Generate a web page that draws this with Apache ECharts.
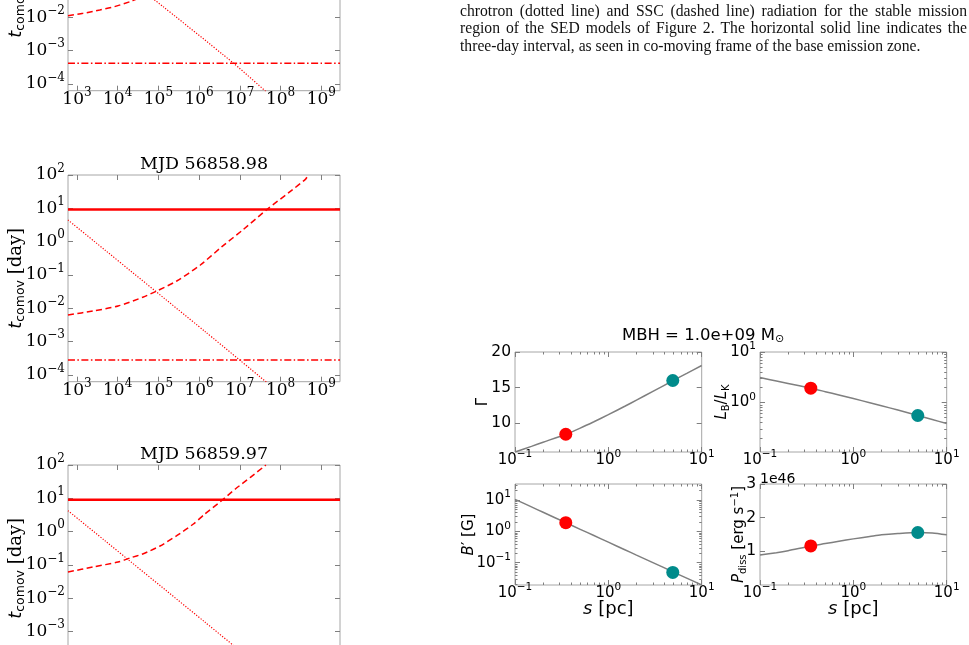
<!DOCTYPE html>
<html><head><meta charset="utf-8">
<script src="https://cdn.jsdelivr.net/npm/echarts@6.0.0/dist/echarts.min.js"></script>
<style>html,body{margin:0;padding:0;background:#fff;}#chart{width:969px;height:645px;}</style>
</head><body><div id="chart"></div>
<script>
// ================= DATA =================
// Left column: comoving time scales vs frequency (log10 values)
const nuTickValues = [1e3, 1e4, 1e5, 1e6, 1e7, 1e8, 1e9];
const tTickValues = [1e-4, 1e-3, 1e-2, 1e-1, 1, 10, 100];
const panelTitles = ['MJD 56858.98', 'MJD 56859.97'];

// Panel A (upper panel, title cut off by the page)
const A_sscLogNu = [2.78, 3.15, 3.56, 3.92, 4.30, 4.45];
const A_sscLogT  = [-1.95, -1.88, -1.78, -1.68, -1.53, -1.46];
const A_synLogNu = [4.85, 6.85, 7.70];
const A_synLogT  = [-1.42, -3.38, -4.29];
const A_escT = 4.2e-4;

// Panel B  (MJD 56858.98)
const B_sscLogNu = [2.78, 3.39, 4.01, 4.63, 4.96, 5.45, 6.03, 6.56, 7.09, 7.67, 8.20, 8.61, 8.68];
const B_sscLogT  = [-2.20, -2.08, -1.93, -1.66, -1.48, -1.18, -0.70, -0.15, 0.37, 0.97, 1.47, 1.87, 2.0];
const B_synLogNu = [2.78, 6.15, 7.70];
const B_synLogT  = [0.65, -2.70, -4.26];
const B_varT = 9.3;
const B_escT = 2.8e-4;

// Panel C  (MJD 56859.97)
const C_sscLogNu = [2.78, 3.39, 4.01, 4.30, 4.63, 5.04, 5.45, 5.86, 6.12, 6.52, 6.89, 7.26, 7.64];
const C_sscLogT  = [-1.21, -1.06, -0.91, -0.79, -0.66, -0.43, -0.12, 0.23, 0.51, 0.90, 1.28, 1.63, 2.0];
const C_synLogNu = [2.78, 6.15, 6.95];
const C_synLogT  = [0.63, -2.72, -3.52];
const C_varT = 9.1;

// Right block: MBH = 1e9 Msun, parameters vs distance s [pc]
const sValues      = [0.1, 0.15, 0.2, 0.35, 0.5, 0.7, 1, 1.5, 2, 3, 4.9, 7, 10];
const gammaValues  = [5.96, 6.75, 7.33, 8.45, 9.32, 10.21, 11.20, 12.38, 13.24, 14.47, 15.96, 17.03, 18.1];
const lbLkValues   = [3.12, 2.67, 2.39, 1.92, 1.64, 1.41, 1.20, 0.99, 0.863, 0.708, 0.553, 0.461, 0.383];
const bPrimeValues = [10.5, 6.03, 4.06, 1.89, 1.16, 0.736, 0.452, 0.260, 0.175, 0.101, 0.0516, 0.0317, 0.0195];
const pDissValues  = [0.89e46, 0.96e46, 1.02e46, 1.16e46, 1.23e46, 1.30e46, 1.37e46, 1.44e46, 1.49e46, 1.53e46, 1.56e46, 1.545e46, 1.49e46];
const markerS      = [0.35, 4.9];
const markerGamma  = [8.45, 16.0];
const markerLbLk   = [1.92, 0.553];
const markerB      = [1.89, 0.049];
const markerP      = [1.16e46, 1.56e46];
const sTickValues  = [0.1, 1, 10];
const gammaTicks   = [10, 15, 20];
const pTicks       = [1e46, 2e46, 3e46];

const captionLines = [
  'chrotron (dotted line) and SSC (dashed line) radiation for the stable mission',
  'region of the SED models of Figure 2.  The horizontal solid line indicates the',
  'three-day interval, as seen in co-moving frame of the base emission zone.'
];
const bigTitle = 'MBH = 1.0e+09 M';

// ================= STYLE / LAYOUT =================
const FRAME = '#a6a6a6', TICK = '#7f7f7f';
const SERIF = '"DejaVu Serif", serif', SANS = '"DejaVu Sans", sans-serif';
const RED = '#ff0000', TEAL = '#008b8b', GRAY = '#7f7f7f';
const NU_MIN = Math.pow(10, 2.78), NU_MAX = Math.pow(10, 9.46);
const T_MIN = Math.pow(10, -4.2), T_MAX = 100;

function minorsLog(lo, hi) { const r = []; for (let d = Math.floor(Math.log10(lo)); d <= Math.ceil(Math.log10(hi)); d++) for (let k = 2; k <= 9; k++) { const v = k * Math.pow(10, d); if (v > lo && v < hi) r.push(v); } return r; }
function logFmt(v) { const e = Math.round(Math.log10(v)); return '{b|10}{s|' + String(e).replace('-', '\u2212') + '}'; }
const LRICH = { b: { fontFamily: SERIF, fontSize: 17, color: '#000' }, s: { fontFamily: SERIF, fontSize: 12, color: '#000', padding: [0, 0, 13, 0] } };
const RRICH = { b: { fontFamily: SANS, fontSize: 15, color: '#000' }, s: { fontFamily: SANS, fontSize: 10.5, color: '#000', padding: [0, 0, 11, 0] } };

const grids = [], xAxes = [], yAxes = [], series = [];
function axis(o) {
  return {
    type: o.type, gridIndex: o.grid, position: o.pos, min: o.min, max: o.max, logBase: 10,
    splitLine: { show: false }, splitArea: { show: false }, minorTick: { show: false },
    axisLine: { show: false, onZero: false },
    axisTick: { show: true, inside: true, length: o.tickLen || 5, customValues: o.ticks, lineStyle: { color: TICK, width: 1 } },
    axisLabel: { show: !!o.labels, customValues: o.ticks, formatter: o.fmt, rich: o.rich, margin: o.margin, color: '#000', fontFamily: o.font, fontSize: o.fs, hideOverlap: false },
    name: o.labels ? (o.name || '') : '', nameLocation: 'middle', nameGap: o.nameGap, nameTextStyle: o.nameStyle, nameMoveOverlap: false,
    silent: true
  };
}
function addPanel(box, xc, yc) {
  const gi = grids.length;
  grids.push({ left: box[0], top: box[1], width: box[2], height: box[3], show: true, borderColor: FRAME, borderWidth: 1, backgroundColor: 'transparent', containLabel: false, outerBoundsMode: 'none' });
  const xi = xAxes.length, yi = yAxes.length;
  xAxes.push(axis(Object.assign({}, xc, { grid: gi, pos: 'bottom', labels: xc.showLabels !== false })));
  yAxes.push(axis(Object.assign({}, yc, { grid: gi, pos: 'left', labels: true })));
  xAxes.push(axis(Object.assign({}, xc, { grid: gi, pos: 'top', labels: false })));
  yAxes.push(axis(Object.assign({}, yc, { grid: gi, pos: 'right', labels: false })));
  if (xc.minor) ['bottom', 'top'].forEach(p => xAxes.push(axis(Object.assign({}, xc, { grid: gi, pos: p, labels: false, ticks: xc.minor, tickLen: 2.5 }))));
  if (yc.minor) ['left', 'right'].forEach(p => yAxes.push(axis(Object.assign({}, yc, { grid: gi, pos: p, labels: false, ticks: yc.minor, tickLen: 2.5 }))));
  return { xi, yi };
}
const pairs = (lx, ly) => lx.map((v, i) => [Math.pow(10, v), Math.pow(10, ly[i])]);
function line(ax, data, color, width, type, z) {
  series.push({ type: 'line', xAxisIndex: ax.xi, yAxisIndex: ax.yi, data, showSymbol: false, symbol: 'none', smooth: 0.25, clip: true, silent: true, animation: false, z: z || 2,
    lineStyle: { color, width, type } });
}
function marks(ax, ys) {
  series.push({ type: 'scatter', xAxisIndex: ax.xi, yAxisIndex: ax.yi, symbolSize: 13, silent: true, animation: false, z: 5,
    data: markerS.map((s, i) => ({ value: [s, ys[i]], itemStyle: { color: i === 0 ? RED : TEAL, opacity: 1 } })) });
}

// ---------- left column ----------
const tName = '{i|t}{sub|comov}{n| [day]}';
const tNameStyle = { rich: { i: { fontFamily: SANS, fontStyle: 'italic', fontSize: 18, color: '#000' }, sub: { fontFamily: SANS, fontSize: 12.5, color: '#000', padding: [9, 0, 0, 0] }, n: { fontFamily: SERIF, fontSize: 18, color: '#000' } } };
const nuAxis = { type: 'log', min: NU_MIN, max: NU_MAX, ticks: nuTickValues, fmt: logFmt, rich: LRICH, margin: -4 };
const tAxis = { type: 'log', min: T_MIN, max: T_MAX, ticks: tTickValues, fmt: logFmt, rich: LRICH, margin: 3, name: tName, nameGap: 41, nameStyle: tNameStyle };
const LEFT_X = 68, LEFT_W = 272, LEFT_H = 206.7;
const DOT = [1.2, 1.6], DASH = [6, 3.5], DASHDOT = [7, 2.5, 1.5, 2.5];

const pA = addPanel([LEFT_X, -116, LEFT_W, LEFT_H], nuAxis, tAxis);
line(pA, pairs(A_sscLogNu, A_sscLogT), RED, 1.5, DASH);
line(pA, pairs(A_synLogNu, A_synLogT), RED, 1.2, DOT);
line(pA, [[NU_MIN, A_escT], [NU_MAX, A_escT]], RED, 1.5, DASHDOT);

const pB = addPanel([LEFT_X, 175, LEFT_W, LEFT_H], nuAxis, tAxis);
line(pB, [[NU_MIN, B_varT], [NU_MAX, B_varT]], RED, 2.5, 'solid', 3);
line(pB, pairs(B_sscLogNu, B_sscLogT), RED, 1.5, DASH);
line(pB, pairs(B_synLogNu, B_synLogT), RED, 1.2, DOT);
line(pB, [[NU_MIN, B_escT], [NU_MAX, B_escT]], RED, 1.5, DASHDOT);

const pC = addPanel([LEFT_X, 465, LEFT_W, LEFT_H], nuAxis, tAxis);
line(pC, [[NU_MIN, C_varT], [NU_MAX, C_varT]], RED, 2.5, 'solid', 3);
line(pC, pairs(C_sscLogNu, C_sscLogT), RED, 1.5, DASH);
line(pC, pairs(C_synLogNu, C_synLogT), RED, 1.2, DOT);

// ---------- right block ----------
const nR = { i: { fontFamily: SANS, fontStyle: 'italic', fontSize: 15, color: '#000' }, n: { fontFamily: SANS, fontSize: 15, color: '#000' }, sb: { fontFamily: SANS, fontSize: 10, color: '#000', padding: [7, 0, 0, 0] }, sp: { fontFamily: SANS, fontSize: 10, color: '#000', padding: [0, 0, 9, 0] } };
const xNameStyle = { rich: { i: { fontFamily: SANS, fontStyle: 'italic', fontSize: 18, color: '#000' }, n: { fontFamily: SANS, fontSize: 18, color: '#000' } } };
const sMinor = minorsLog(0.1, 10);
const sAxisTop = { type: 'log', min: 0.1, max: 10, ticks: sTickValues, minor: sMinor, fmt: logFmt, rich: RRICH, margin: -3 };
const sAxisBot = Object.assign({}, sAxisTop, { name: '{i|s}{n| [pc]}', nameGap: 15, nameStyle: xNameStyle });
const plainFmt = v => String(v);

const pG = addPanel([515, 352, 186.7, 100], sAxisTop,
  { type: 'value', min: 5.96, max: 20, ticks: gammaTicks, fmt: plainFmt, font: SANS, fs: 15.5, margin: 4, name: 'Γ', nameGap: 24, nameStyle: { fontFamily: SANS, fontSize: 15, color: '#000' } });
line(pG, sValues.map((s, i) => [s, gammaValues[i]]), GRAY, 1.5, 'solid');
marks(pG, markerGamma);

const LB_MIN = Math.pow(10, -0.98);
const pL = addPanel([760, 352, 186.7, 100], sAxisTop,
  { type: 'log', min: LB_MIN, max: 10, ticks: [1, 10], minor: minorsLog(LB_MIN, 10), fmt: logFmt, rich: RRICH, margin: 4, name: '{i|L}{sb|B}{n|/}{i|L}{sb|K}', nameGap: 29, nameStyle: { rich: nR } });
line(pL, sValues.map((s, i) => [s, lbLkValues[i]]), GRAY, 1.5, 'solid');
marks(pL, markerLbLk);

const B_MIN = Math.pow(10, -1.71), B_MAX = Math.pow(10, 1.51);
const pBp = addPanel([515, 484, 186.7, 101], sAxisBot,
  { type: 'log', min: B_MIN, max: B_MAX, ticks: [0.1, 1, 10], minor: minorsLog(B_MIN, B_MAX), fmt: logFmt, rich: RRICH, margin: 4, name: '{i|B}{n|\u2032 [G]}', nameGap: 38, nameStyle: { rich: nR } });
line(pBp, sValues.map((s, i) => [s, bPrimeValues[i]]), GRAY, 1.5, 'solid');
marks(pBp, markerB);

const pP = addPanel([760, 484, 186.7, 101], sAxisBot,
  { type: 'value', min: 0, max: 3e46, ticks: pTicks, fmt: v => String(Math.round(v / 1e46)), font: SANS, fs: 15.5, margin: 4, name: '{i|P}{sb|diss}{n| [erg s}{sp|\u22121}{n|]}', nameGap: 11, nameStyle: { rich: nR } });
line(pP, sValues.map((s, i) => [s, pDissValues[i]]), GRAY, 1.5, 'solid');
marks(pP, markerP);

// ---------- text (titles, caption) ----------
const graphics = [];
function txt(x, y, text, style) {
  graphics.push({ type: 'text', x, y, silent: true, z: 10, style: Object.assign({ text, fill: '#000', align: 'center', verticalAlign: 'middle', textAlign: 'center', textVerticalAlign: 'middle' }, style) });
}
txt(LEFT_X + LEFT_W / 2, 164.5, panelTitles[0], { fontFamily: SERIF, fontSize: 17.5 });
txt(LEFT_X + LEFT_W / 2, 454.5, panelTitles[1], { fontFamily: SERIF, fontSize: 17.5 });
txt(703, 336, '{m|' + bigTitle + '}{o|\u2299}', { rich: { m: { fontFamily: SANS, fontSize: 16.5, color: '#000' }, o: { fontFamily: SANS, fontSize: 11, color: '#000', padding: [7, 0, 0, 0] } } });
txt(760, 479, '1e46', { fontFamily: SANS, fontSize: 14, align: 'left', textAlign: 'left' });

// caption, justified like the page
const cv = document.createElement('canvas').getContext('2d');
const CAP_FONT = '"Liberation Serif", "Times New Roman", serif';
const mw = (t, fs) => { cv.font = fs + 'px ' + CAP_FONT; return cv.measureText(t).width; };
const capFs = 15 * 460.7 / mw(captionLines[2], 15);
const CAP_X0 = 460, CAP_X1 = 967, CAP_Y = [11.7, 29.3, 46.7];
captionLines.forEach((ln, li) => {
  const words = ln.split(' ').filter(w => w.length);
  const widths = words.map(w => mw(w, capFs));
  const gap = li < 2 ? (CAP_X1 - CAP_X0 - widths.reduce((a, b) => a + b, 0)) / (words.length - 1) : mw(' ', capFs);
  let x = CAP_X0;
  words.forEach((w, i) => { txt(x, CAP_Y[li], w, { fontFamily: CAP_FONT, fontSize: capFs, align: 'left', textAlign: 'left', fill: '#111' }); x += widths[i] + gap; });
});

const chart = echarts.init(document.getElementById('chart'), null, { renderer: 'canvas' });
chart.setOption({
  animation: false, backgroundColor: '#fff',
  grid: grids, xAxis: xAxes, yAxis: yAxes, series, graphic: { elements: graphics },
  tooltip: { show: false }, legend: { show: false }
});
</script></body></html>
